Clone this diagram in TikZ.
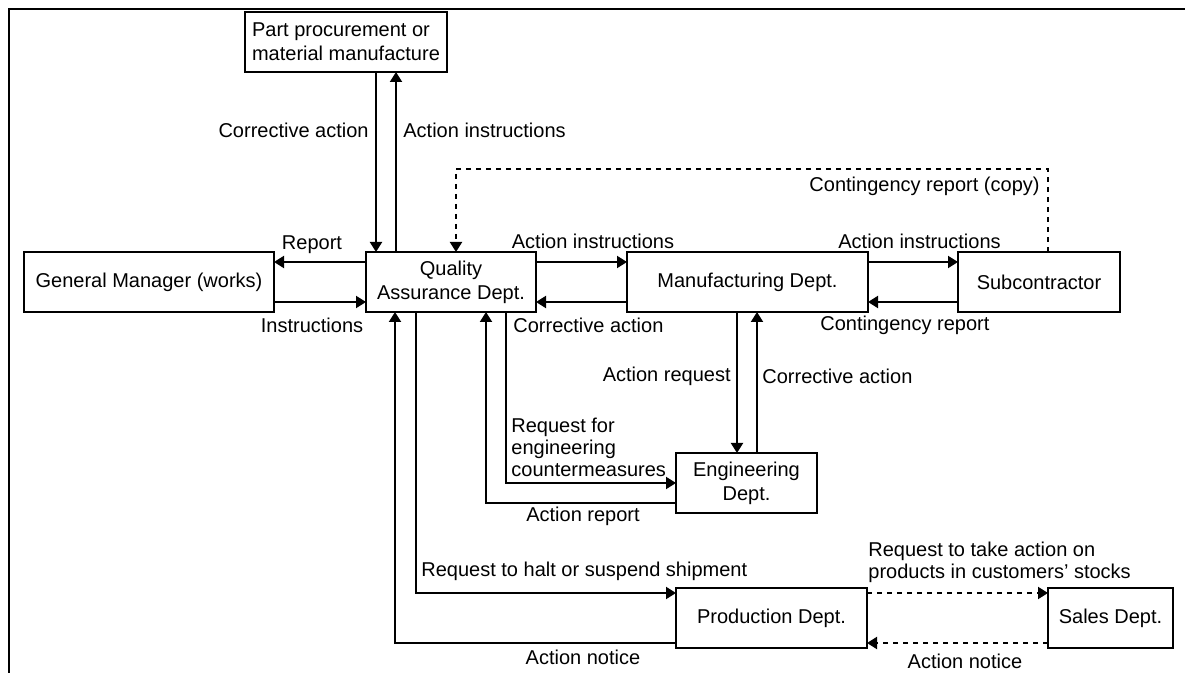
\documentclass[tikz,border=0pt]{standalone}
\usepackage{fontspec}
\setmainfont{Liberation Sans}
\usetikzlibrary{arrows.meta}
\begin{document}
\begin{tikzpicture}[x=0.5pt,y=-0.5pt,
  box/.style={draw,line width=1pt,inner sep=0pt,outer sep=0pt,align=center,
    font=\fontsize{10}{12}\selectfont},
  flow/.style={line width=1pt,-{Triangle[length=5pt,width=6pt]}},
  dotflow/.style={flow,dash pattern=on 2.5pt off 2.5pt},
  lbl/.style={inner sep=0pt,font=\fontsize{10}{12}\selectfont}]
\useasboundingbox (0,0) rectangle (1185,673);
% frame edges
\draw[line width=1pt] (9,673) -- (9,9) -- (1185,9);

% departments
\node[box,minimum width=101pt,minimum height=30pt,align=left] (pp) at (346,42)
  {Part procurement or\\material manufacture};
\node[box,minimum width=125pt,minimum height=30pt] (gm) at (149,282) {General Manager (works)};
\node[box,minimum width=85pt,minimum height=30pt] (qa) at (451,282) {Quality\\Assurance Dept.};
\node[box,minimum width=120.5pt,minimum height=30pt] (mf) at (747.5,282) {Manufacturing Dept.};
\node[box,minimum width=81pt,minimum height=30pt] (sc) at (1039,282) {Subcontractor};
\node[box,minimum width=70.5pt,minimum height=30pt] (eng) at (746.5,483) {Engineering\\Dept.};
\node[box,minimum width=95.5pt,minimum height=30pt] (prod) at (771.5,618) {Production Dept.};
\node[box,minimum width=62.5pt,minimum height=30pt] (sales) at (1110.5,618) {Sales Dept.};

% routing points
\coordinate (c1) at (376,0);
\coordinate (c2) at (396,0);
\coordinate (h1) at (0,262);
\coordinate (h2) at (0,302);
\coordinate (v1) at (737,0);
\coordinate (v2) at (757,0);
\coordinate (dtop) at (1048,169);
\coordinate (dtopl) at (456,169);
\coordinate (r1) at (506,483);
\coordinate (r2) at (486,503);
\coordinate (r3) at (416,593);
\coordinate (r4) at (395,643);
\coordinate (h3) at (0,593);
\coordinate (h4) at (0,643);

% procurement
\draw[flow] (pp.south -| c1) -- (qa.north -| c1);
\draw[flow] (qa.north -| c2) -- (pp.south -| c2);
% general manager
\draw[flow] (qa.west |- h1) -- (gm.east |- h1);
\draw[flow] (gm.east |- h2) -- (qa.west |- h2);
% manufacturing
\draw[flow] (qa.east |- h1) -- (mf.west |- h1);
\draw[flow] (mf.west |- h2) -- (qa.east |- h2);
% subcontractor
\draw[flow] (mf.east |- h1) -- (sc.west |- h1);
\draw[flow] (sc.west |- h2) -- (mf.east |- h2);
\draw[dotflow] (sc.north -| dtop) -- (dtop) -- (dtopl) -- (qa.north -| dtopl);
% engineering
\draw[flow] (mf.south -| v1) -- (eng.north -| v1);
\draw[flow] (eng.north -| v2) -- (mf.south -| v2);
\draw[flow] (qa.south -| r1) -- (r1) -- (eng.west |- r1);
\draw[flow] (eng.west |- r2) -- (r2) -- (qa.south -| r2);
% production
\draw[flow] (qa.south -| r3) -- (r3) -- (prod.west |- r3);
\draw[flow] (prod.west |- r4) -- (r4) -- (qa.south -| r4);
% sales
\draw[dotflow] (prod.east |- h3) -- (sales.west |- h3);
\draw[dotflow] (sales.west |- h4) -- (prod.east |- h4);

% labels
\node[lbl,anchor=east] (l1) at (369,130) {Corrective action};
\node[lbl,anchor=west] (l2) at (403,130) {Action instructions};
\node[lbl] (l3) at (312,245) {Report};
\node[lbl] (l4) at (312,325) {Instructions};
\node[lbl] (l5) at (593,241) {Action instructions};
\node[lbl,anchor=west] (l6) at (513,325) {Corrective action};
\node[lbl,anchor=west] (l7) at (838,241) {Action instructions};
\node[lbl,anchor=west] (l8) at (820,325) {Contingency report};
\node[lbl,anchor=east] (l9) at (1040,186) {Contingency report (copy)};
\node[lbl,anchor=east] (l10) at (731,376) {Action request};
\node[lbl,anchor=west] (l11) at (762,376) {Corrective action};
\node[lbl,anchor=west,align=left,font=\fontsize{10}{11}\selectfont] (l12) at (511,447)
  {Request for\\engineering\\countermeasures};
\node[lbl] (l13) at (583,516) {Action report};
\node[lbl,anchor=west] (l14) at (421,571) {Request to halt or suspend shipment};
\node[lbl] (l15) at (583,657) {Action notice};
\node[lbl,anchor=west,align=left,font=\fontsize{10}{11}\selectfont] (l16) at (868,562)
  {Request to take action on\\products in customers’ stocks};
\node[lbl] (l17) at (965,661) {Action notice};
\end{tikzpicture}
\end{document}
